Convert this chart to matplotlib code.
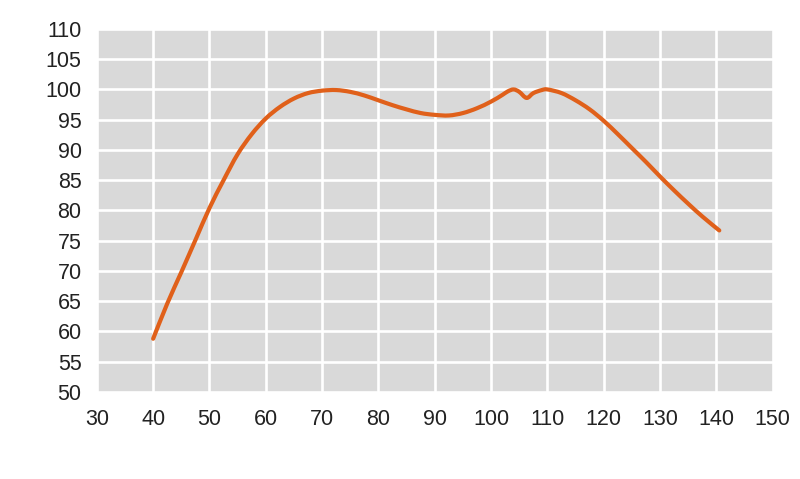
import matplotlib
matplotlib.use('Agg')
import matplotlib.pyplot as plt
from matplotlib.path import Path
from matplotlib.patches import PathPatch
import numpy as np

# values
x_vals = [40, 42.5, 45, 47.5, 50, 52.5, 55, 57.5, 60, 62.5, 65, 67.5, 70,
          72.5, 75, 77.5, 80, 82.5, 85, 87.5, 90, 92.5, 95, 97.5, 100, 102,
          103, 104, 105, 106.3, 107.5, 109, 110, 112.5, 115, 117.5, 120,
          122.5, 125, 127.5, 130, 132.5, 135, 137.5, 140.5]
y_vals = [58.8, 64.6, 69.8, 75.1, 80.4, 85.0, 89.3, 92.6, 95.2, 97.1, 98.5,
          99.4, 99.8, 99.9, 99.6, 99.0, 98.2, 97.4, 96.7, 96.1, 95.8, 95.7,
          96.1, 96.9, 98.0, 99.1, 99.7, 100.0, 99.6, 98.6, 99.4, 99.9, 100.0,
          99.4, 98.2, 96.7, 94.8, 92.6, 90.3, 88.0, 85.6, 83.3, 81.1, 79.0,
          76.7]

x_ticks = np.arange(30, 151, 10)
y_ticks = np.arange(50, 111, 5)


def smooth_path(xs, ys):
    """Catmull-Rom through the points, drawn as cubic bezier segments

    """
    p = np.column_stack([xs, ys])
    verts = [p[0]]
    codes = [Path.MOVETO]
    for i in range(len(p) - 1):
        p0 = p[i - 1] if i > 0 else p[i]
        p3 = p[i + 2] if i + 2 < len(p) else p[i + 1]
        c1 = p[i] + (p[i + 1] - p0) / 6
        c2 = p[i + 1] - (p3 - p[i]) / 6
        verts += [c1, c2, p[i + 1]]
        codes += [Path.CURVE4] * 3
    return Path(verts, codes)


plt.rcParams['font.family'] = ['Liberation Sans', 'DejaVu Sans']

fig = plt.figure(figsize=(8, 4.79), dpi=100)
ax = fig.add_axes([0.121, 0.1816, 0.845, 0.758])
ax.set_facecolor('#d9d9d9')

curve = PathPatch(smooth_path(x_vals, y_vals), facecolor='none',
                  edgecolor='#e0601a', linewidth=3.0, capstyle='round',
                  joinstyle='round', zorder=3)
ax.add_patch(curve)

ax.set_xlim(30, 150)
ax.set_ylim(50, 110)
ax.set_xticks(x_ticks)
ax.set_yticks(y_ticks)
ax.grid(True, color='white', linewidth=1.9)
ax.set_axisbelow(True)

for s in ax.spines.values():
    s.set_visible(False)
ax.tick_params(axis='both', length=0, labelsize=15.5, labelcolor='#222222')
ax.tick_params(axis='y', pad=11)
ax.tick_params(axis='x', pad=12)

fig.savefig('out.png', dpi=100)
